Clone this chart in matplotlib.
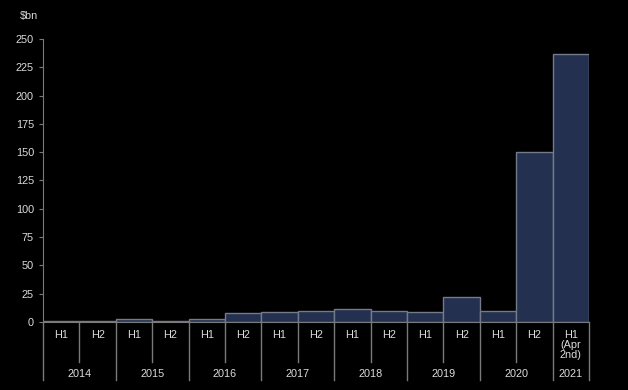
import matplotlib.pyplot as plt
import numpy as np

# data
halves = ['H1', 'H2'] * 7 + ['H1\n(Apr\n2nd)']
years = ['2014', '2015', '2016', '2017', '2018', '2019', '2020', '2021']
values = [0.5, 0.5, 2.5, 0.5, 2.5, 8, 9, 10, 11.5, 9.5, 9, 22, 10, 150, 237]
yticks = [0, 25, 50, 75, 100, 125, 150, 175, 200, 225, 250]

txt = '#dcdcdc'
grey = '#7a7a7a'
plt.rcParams['font.family'] = ['Liberation Sans', 'DejaVu Sans']

fig = plt.figure(figsize=(6.28, 3.9), dpi=100, facecolor='black')
ax = fig.add_axes([43/628, 1-322/390, 546/628, 283/390])
ax.set_facecolor('black')

x = np.arange(len(values))
ax.bar(x, values, width=1, align='edge', color='#23304f', edgecolor='#737a8a', linewidth=1)

ax.set_xlim(0, len(values))
ax.set_ylim(0, 250)
ax.set_yticks(yticks)
ax.tick_params(axis='y', colors=grey, labelcolor=txt, labelsize=7.8, length=3)
ax.set_xticks([])
for s in ['top', 'right']:
    ax.spines[s].set_visible(False)
for s in ['left', 'bottom']:
    ax.spines[s].set_color(grey)

# category lines and labels below axis
tr = ax.get_xaxis_transform()
for i in range(len(values) + 1):
    # year boundary at even index (and the very end)
    if i % 2 == 0 or i == len(values):
        y0 = -0.205
    else:
        y0 = -0.141
    ax.plot([i, i], [0, y0], color=grey, lw=1, transform=tr, clip_on=False)
for i, h in enumerate(halves):
    ax.text(i + 0.5, -0.03, h, transform=tr, ha='center', va='top', color=txt, fontsize=7.8,
            linespacing=1.0)
for j, yr in enumerate(years):
    if j < 7:
        xc = 2 * j + 1
    else:
        xc = 14.5
    ax.text(xc, -0.184, yr, transform=tr, ha='center', va='center', color=txt, fontsize=7.8)

fig.text(20/628, 1-16/390, '$bn', color=txt, fontsize=7.8, ha='left', va='center')

fig.savefig('out.png', dpi=100, facecolor='black')
